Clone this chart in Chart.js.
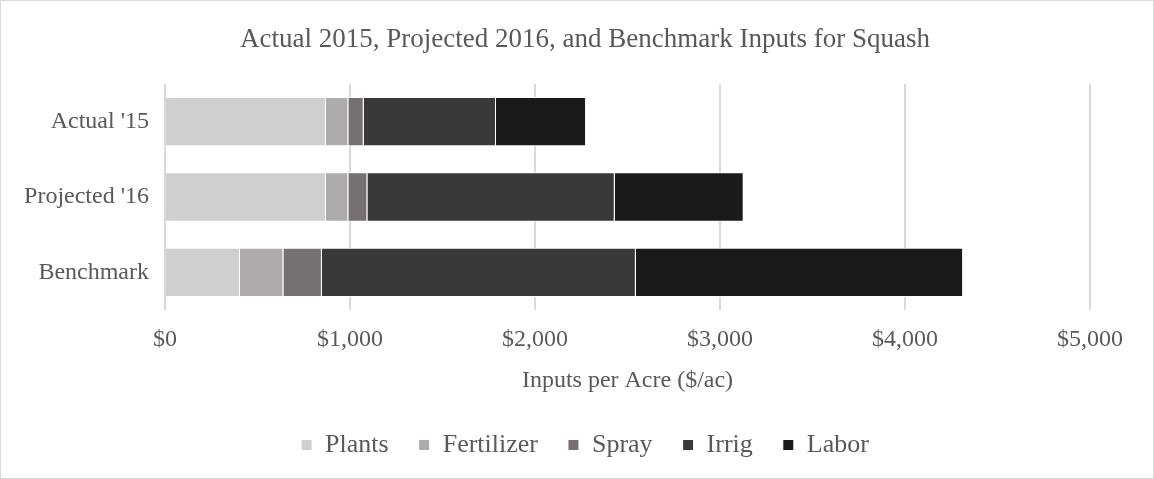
<!DOCTYPE html>
<html>
<head>
<meta charset="utf-8">
<script src="https://cdn.jsdelivr.net/npm/chart.js@4.4.0/dist/chart.umd.min.js"></script>
<style>
  html, body { margin: 0; padding: 0; background: #fff; }
  #wrap { width: 1154px; height: 479px; position: relative; }
</style>
</head>
<body>
<div id="wrap"><canvas id="c" width="1154" height="479"></canvas></div>
<script>
const categories = ["Actual '15", "Projected '16", "Benchmark"];
const seriesNames = ["Plants", "Fertilizer", "Spray", "Irrig", "Labor"];
const plants = [870, 870, 405];
const fertilizer = [121, 121, 235];
const spray = [83, 103, 208];
const irrig = [715, 1337, 1697];
const labor = [487, 697, 1769];
const tickLabels = ["$0", "$1,000", "$2,000", "$3,000", "$4,000", "$5,000"];
const colors = ["#D0CECF", "#AFABAA", "#767170", "#3B3938", "#1A1A1A"];

const values = [plants, fertilizer, spray, irrig, labor];
const FONT = "'Liberation Serif', 'Times New Roman', serif";
const TXT = "#595959";

const borderPlugin = {
  id: 'outerBorder',
  afterLayout(chart) {
    // centre title and legend on the whole canvas width (as in the reference)
    const boxes = [chart.titleBlock, chart.legend];
    boxes.forEach(b => {
      if (!b) return;
      b.left = 80;
      b.right = 1090;
      b.width = 1010;
    });
  },
  afterDraw(chart) {
    const ctx = chart.ctx;
    ctx.save();
    ctx.strokeStyle = '#d9d9d9';
    ctx.lineWidth = 1;
    ctx.strokeRect(0.5, 0.5, chart.width - 1, chart.height - 1);
    ctx.restore();
  }
};

new Chart(document.getElementById('c'), {
  type: 'bar',
  data: {
    labels: categories,
    datasets: seriesNames.map((n, i) => ({
      label: n,
      data: values[i],
      backgroundColor: colors[i],
      borderColor: '#ffffff',
      borderWidth: 1,
      barPercentage: 0.655,
      categoryPercentage: 1.0
    }))
  },
  plugins: [borderPlugin],
  options: {
    indexAxis: 'y',
    responsive: false,
    animation: false,
    layout: { padding: { left: 0, right: 64, top: 0, bottom: 11 } },
    plugins: {
      tooltip: { enabled: false },
      title: {
        display: true,
        text: 'Actual 2015, Projected 2016, and Benchmark Inputs for Squash',
        color: TXT,
        font: { family: FONT, size: 27, weight: 'normal' },
        padding: { top: 24, bottom: 27.6 }
      },
      legend: {
        position: 'bottom',
        labels: {
          color: TXT,
          font: { family: FONT, size: 26 },
          boxWidth: 11,
          boxHeight: 11,
          padding: 30
        }
      }
    },
    scales: {
      x: {
        stacked: true,
        min: 0,
        max: 5000,
        ticks: {
          stepSize: 1000,
          color: TXT,
          font: { family: FONT, size: 24 },
          padding: 15,
          maxRotation: 0,
          callback: (v, i) => tickLabels[i]
        },
        grid: { color: '#d9d9d9', lineWidth: 2, drawTicks: false },
        border: { display: false },
        title: {
          display: true,
          text: 'Inputs per Acre ($/ac)',
          color: TXT,
          font: { family: FONT, size: 24 },
          padding: { top: 6, bottom: 7 }
        },
        afterFit(scale) { scale.height = 92; }
      },
      y: {
        stacked: true,
        ticks: {
          color: TXT,
          font: { family: FONT, size: 24 },
          padding: 16
        },
        grid: { display: false, drawTicks: false },
        border: { display: false },
        afterFit(scale) { scale.width = 165; }
      }
    }
  }
});
</script>
</body>
</html>
